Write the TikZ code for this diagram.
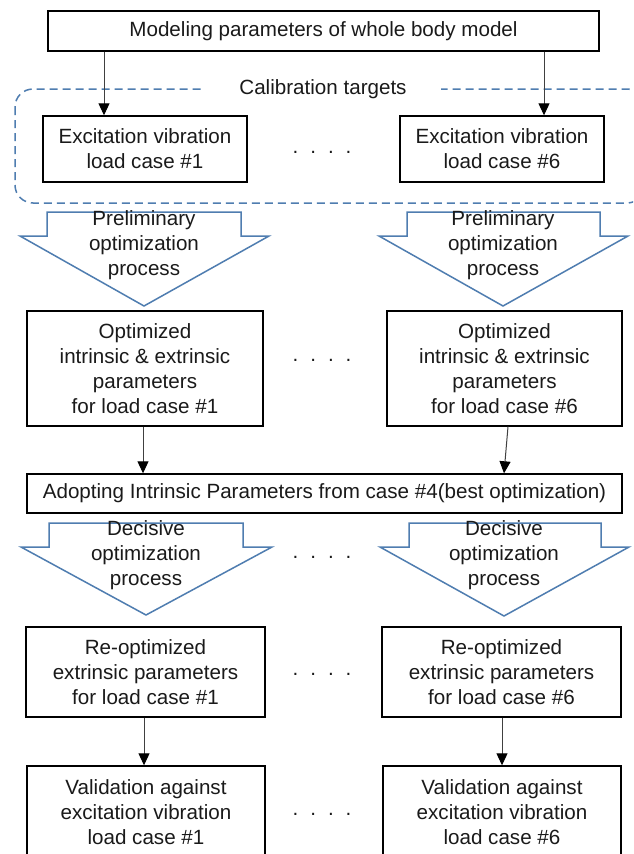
\documentclass[tikz,border=0pt]{standalone}
\usepackage{fontspec}
\setmainfont{Liberation Sans}
\usetikzlibrary{arrows.meta}
\definecolor{arrowblue}{HTML}{4F7DB0}
\definecolor{conngray}{HTML}{404040}
\definecolor{txt}{HTML}{1A1A1A}
\newcommand{\mainfs}{\fontsize{20.6pt}{25pt}\selectfont}
\tikzset{
  box/.style={draw=black, line width=1.4pt, inner sep=0pt, align=center, font=\mainfs, text=txt},
  conn/.style={draw=conngray, line width=1pt, -{Triangle[width=11pt,length=12pt,color=black]}},
  blockarrow/.style={draw=arrowblue, line width=1.5pt, line join=miter},
  dashbox/.style={draw=arrowblue, line width=1.5pt, dash pattern=on 8pt off 5pt, rounded corners=18pt},
  lbl/.style={align=center, font=\mainfs, inner sep=0pt, text=txt},
  dotrow/.style={font=\mainfs, inner sep=0pt, text=txt},
}
\newcommand{\fourdots}{.\hspace{12pt}.\hspace{12pt}.\hspace{12pt}.}
\begin{document}
\begin{tikzpicture}[x=1pt,y=-1pt]
\useasboundingbox (0,0) rectangle (633,854);
\clip (0,0) rectangle (633,854);
\fill[white] (0,0) rectangle (633,854);

% calibration dashed frame
\draw[dashbox] (15,89) rectangle (645,203);
\node[lbl, fill=white, minimum width=236pt, minimum height=20pt] (calib) at (323,89) {Calibration targets};

% top box
\node[box, minimum width=551pt, minimum height=40pt] (top) at (323.5,31) {Modeling parameters of whole body model};

% excitation boxes
\node[box, minimum width=204pt, minimum height=66pt] (ex1) at (145,149) {Excitation vibration\\load case \#1};
\node[box, minimum width=204pt, minimum height=66pt] (ex6) at (502,149) {Excitation vibration\\load case \#6};
\node[dotrow] (d1) at (322,152) {\fourdots};

% preliminary block arrows
\draw[blockarrow] (47,212) -- (241,212) -- (241,236) -- (269,236) -- (144,306) -- (20,236) -- (47,236) -- cycle;
\draw[blockarrow] (407,212) -- (600,212) -- (600,236) -- (628,236) -- (503,306) -- (379,236) -- (407,236) -- cycle;
\node[lbl] (pre1) at (144,245) {Preliminary\\optimization\\process};
\node[lbl] (pre6) at (503,245) {Preliminary\\optimization\\process};

% optimized boxes
\node[box, minimum width=236pt, minimum height=115pt] (opt1) at (145,368.5) {Optimized\\intrinsic \& extrinsic\\parameters\\for load case \#1};
\node[box, minimum width=235pt, minimum height=115pt] (opt6) at (504.5,368.5) {Optimized\\intrinsic \& extrinsic\\parameters\\for load case \#6};
\node[dotrow] (d2) at (322,360) {\fourdots};

% adopting box
\node[box, minimum width=595pt, minimum height=39pt] (adopt) at (324.5,493.5) {Adopting Intrinsic Parameters from case \#4(best optimization)};

% decisive block arrows
\draw[blockarrow] (49,523) -- (243,523) -- (243,547) -- (272,547) -- (146,615) -- (21,547) -- (49,547) -- cycle;
\draw[blockarrow] (409,523) -- (601,523) -- (601,547) -- (629,547) -- (504,616) -- (380,547) -- (409,547) -- cycle;
\node[lbl] (dec1) at (146,555) {Decisive\\optimization\\process};
\node[lbl] (dec6) at (504,555) {Decisive\\optimization\\process};
\node[dotrow] (d3) at (322,557) {\fourdots};

% re-optimized boxes
\node[box, minimum width=239pt, minimum height=90pt] (re1) at (145.5,672) {Re-optimized\\extrinsic parameters\\for load case \#1};
\node[box, minimum width=239pt, minimum height=90pt] (re6) at (501.5,672) {Re-optimized\\extrinsic parameters\\for load case \#6};
\node[dotrow] (d4) at (322,674) {\fourdots};

% validation boxes
\node[box, minimum width=238pt, minimum height=92pt] (val1) at (146,812) {Validation against\\excitation vibration\\load case \#1};
\node[box, minimum width=238pt, minimum height=92pt] (val6) at (502,812) {Validation against\\excitation vibration\\load case \#6};
\node[dotrow] (d5) at (322,814) {\fourdots};

% x positions for connectors
\coordinate (xa) at (104,0);
\coordinate (xb) at (544,0);
\coordinate (xc) at (143,0);
\coordinate (xd1) at (508,0);
\coordinate (xd2) at (504,0);
\coordinate (xe) at (144,0);
\coordinate (xf) at (502,0);

% connectors
\draw[conn] (top.south -| xa) -- (ex1.north -| xa);
\draw[conn] (top.south -| xb) -- (ex6.north -| xb);
\draw[conn] (opt1.south -| xc) -- (adopt.north -| xc);
\draw[conn] (opt6.south -| xd1) -- (adopt.north -| xd2);
\draw[conn] (re1.south -| xe) -- (val1.north -| xe);
\draw[conn] (re6.south -| xf) -- (val6.north -| xf);
\end{tikzpicture}
\end{document}
